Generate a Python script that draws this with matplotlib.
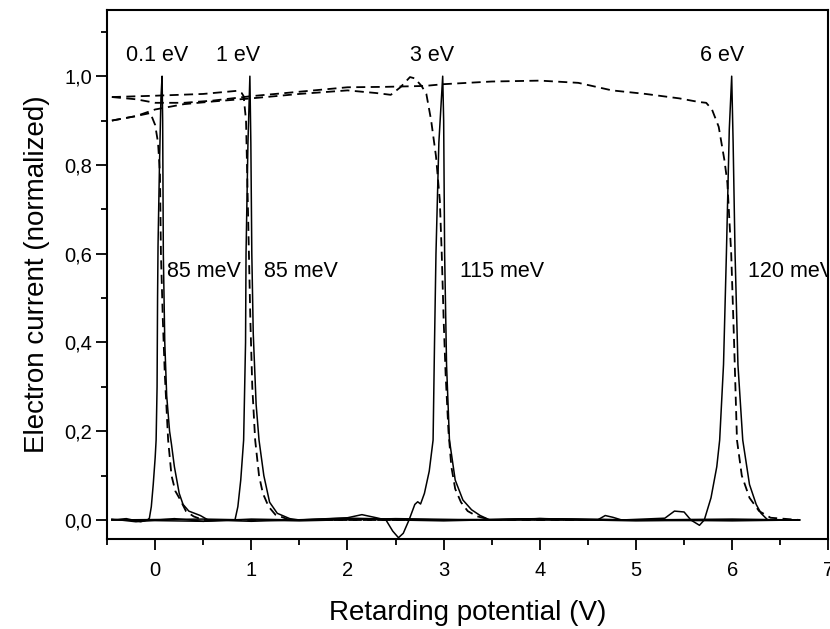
import matplotlib
matplotlib.use("Agg")
import matplotlib.pyplot as plt
from matplotlib.ticker import MultipleLocator, FuncFormatter

plt.rcParams['font.family'] = ['Liberation Sans', 'DejaVu Sans']

# solid lines: measured peaks (electron energy distribution)
x_s01 = [-0.45, -0.3, -0.15, -0.08, -0.06, -0.04, -0.02, 0.0, 0.01, 0.02, 0.025, 0.03, 0.045, 0.06, 0.072,
         0.078, 0.085, 0.1, 0.12, 0.15, 0.17, 0.2, 0.25, 0.29, 0.35, 0.47, 0.55, 1.0, 2.0, 3.0, 4.0, 5.0, 6.0, 6.7]
y_s01 = [0.0, 0.003, -0.004, 0.0, 0.004, 0.03, 0.08, 0.14, 0.18, 0.3, 0.5, 0.62, 0.8, 0.95, 1.0,
         0.9, 0.6, 0.4, 0.28, 0.2, 0.17, 0.12, 0.06, 0.035, 0.02, 0.01, 0.0, -0.003, 0.004, 0.0, 0.003, 0.0, 0.002, 0.0]

x_s1 = [-0.45, -0.2, 0.2, 0.5, 0.83, 0.86, 0.89, 0.92, 0.94, 0.945, 0.965, 0.985,
        0.995, 1.005, 1.02, 1.05, 1.08, 1.13, 1.19, 1.27, 1.4, 1.5, 2.0, 3.0, 4.0, 5.0, 6.0, 6.7]
y_s1 = [0.002, -0.004, 0.003, -0.003, 0.0, 0.03, 0.09, 0.18, 0.4, 0.6, 0.85, 1.0,
        0.85, 0.6, 0.42, 0.26, 0.18, 0.1, 0.04, 0.015, 0.003, 0.0, 0.002, -0.002, 0.003, 0.0, -0.002, 0.0]

x_s3 = [-0.45, 0.5, 1.0, 1.5, 2.0, 2.15, 2.3, 2.4, 2.47, 2.53, 2.58, 2.64, 2.7, 2.73, 2.76, 2.8, 2.85, 2.89,
        2.905, 2.92, 2.95, 2.99, 3.0, 3.01, 3.03, 3.06, 3.12, 3.2, 3.29, 3.38, 3.48, 4.0, 5.0, 6.0, 6.7]
y_s3 = [0.0, -0.003, 0.002, 0.0, 0.005, 0.012, 0.005, 0.0, -0.025, -0.04, -0.03, 0.0, 0.035, 0.041, 0.036,
        0.06, 0.11, 0.18, 0.4, 0.6, 0.85, 1.0, 0.9, 0.6, 0.35, 0.18, 0.09, 0.045, 0.023, 0.01, 0.0,
        0.002, -0.002, 0.0, 0.0]

x_s6 = [-0.45, 0.5, 1.5, 2.5, 3.5, 4.0, 4.6, 4.68, 4.76, 4.85, 5.3, 5.4, 5.5, 5.57, 5.66, 5.71, 5.78, 5.84, 5.87,
        5.91, 5.94, 5.97, 5.995, 6.01, 6.03, 6.06, 6.11, 6.18, 6.25, 6.3, 6.37, 6.7]
y_s6 = [0.0, 0.002, -0.002, 0.003, 0.0, 0.003, 0.0, 0.01, 0.006, 0.0, 0.004, 0.02, 0.018, 0.0, -0.012, 0.0,
        0.05, 0.12, 0.18, 0.35, 0.6, 0.88, 1.0, 0.85, 0.6, 0.35, 0.18, 0.08, 0.035, 0.015, 0.0, 0.0]

# dashed lines: normalized retarding curves
x_d01 = [-0.45, -0.2, -0.05, 0.0, 0.03, 0.05, 0.06, 0.08, 0.1, 0.135, 0.17, 0.21, 0.26, 0.32, 0.4, 0.5,
         1.5, 3.0, 4.5, 6.7]
y_d01 = [0.90, 0.91, 0.917, 0.89, 0.85, 0.78, 0.6, 0.45, 0.33, 0.18, 0.1, 0.065, 0.046, 0.02, 0.008, 0.0,
         0.0, 0.0, 0.0, 0.0]

x_d1 = [-0.45, 0.0, 0.5, 0.85, 0.9, 0.92, 0.945, 0.955, 0.975, 0.99, 1.01, 1.04, 1.08, 1.12, 1.18, 1.25,
        1.4, 3.0, 5.0, 6.7]
y_d1 = [0.953, 0.956, 0.96, 0.967, 0.962, 0.955, 0.9, 0.8, 0.6, 0.45, 0.3, 0.18, 0.1, 0.06, 0.03, 0.012,
        0.0, 0.0, 0.0, 0.0]

x_d3 = [-0.45, -0.2, 0.0, 0.3, 0.6, 1.0, 1.5, 2.0, 2.3, 2.45, 2.55, 2.65, 2.7, 2.77, 2.82, 2.87, 2.92, 2.96,
        2.98, 3.0, 3.02, 3.05, 3.08, 3.12, 3.18, 3.25, 3.35, 3.5, 5.0, 6.7]
y_d3 = [0.90, 0.91, 0.925, 0.937, 0.943, 0.95, 0.96, 0.968, 0.962, 0.958, 0.975, 0.998, 0.995, 0.978, 0.96,
        0.9, 0.82, 0.72, 0.6, 0.45, 0.33, 0.2, 0.12, 0.07, 0.04, 0.02, 0.008, 0.0, 0.0, 0.0]

x_d6 = [-0.45, -0.2, 0.0, 0.3, 0.6, 1.0, 1.5, 2.0, 2.4, 2.8, 3.0, 3.5, 4.0, 4.4, 4.75, 5.1, 5.45, 5.65, 5.73,
        5.79, 5.86, 5.92, 5.95, 5.99, 6.02, 6.05, 6.1, 6.18, 6.28, 6.4, 6.7]
y_d6 = [0.953, 0.948, 0.94, 0.94, 0.945, 0.955, 0.965, 0.975, 0.976, 0.978, 0.982, 0.988, 0.99, 0.985, 0.968,
        0.96, 0.95, 0.942, 0.94, 0.925, 0.886, 0.81, 0.76, 0.6, 0.4, 0.18, 0.1, 0.05, 0.02, 0.005, 0.0]

peak_labels = ["0.1 eV", "1 eV", "3 eV", "6 eV"]
peak_label_x = [0.02, 0.86, 2.88, 5.90]
width_labels = ["85 meV", "85 meV", "115 meV", "120 meV"]
width_label_x = [0.125, 1.13, 3.17, 6.16]

fig = plt.figure(figsize=(8.3, 6.29), dpi=100)
ax = fig.add_axes([0.129, 0.143, 0.869, 0.841])

for xs, ys in [(x_s01, y_s01), (x_s1, y_s1), (x_s3, y_s3), (x_s6, y_s6)]:
    ax.plot(xs, ys, color='black', linewidth=1.1)
for xs, ys in [(x_d01, y_d01), (x_d1, y_d1), (x_d3, y_d3), (x_d6, y_d6)]:
    ax.plot(xs, ys, color='black', linewidth=1.3, linestyle=(0, (5, 3)))

for lab, xp in zip(peak_labels, peak_label_x):
    ax.text(xp, 1.047, lab, ha='center', va='center', fontsize=15.5)
# the last width label runs into the right frame, as in the original
for lab, xp in zip(width_labels, width_label_x):
    ax.text(xp, 0.559, lab, ha='left', va='center', fontsize=15.5, clip_on=True)

ax.set_xlim(-0.5, 7.0)
ax.set_ylim(-0.043, 1.149)
ax.xaxis.set_major_locator(MultipleLocator(1))
ax.xaxis.set_minor_locator(MultipleLocator(0.5))
ax.yaxis.set_major_locator(MultipleLocator(0.2))
ax.yaxis.set_minor_locator(MultipleLocator(0.1))
ax.yaxis.set_major_formatter(FuncFormatter(lambda v, p: f"{v:.1f}".replace('.', ',')))

ax.tick_params(which='major', direction='out', length=8, width=1.3, labelsize=14.5)
ax.tick_params(axis='x', which='major', pad=8)
ax.tick_params(axis='y', which='major', pad=3)
ax.tick_params(which='minor', direction='out', length=4.5, width=1.3)
for s in ax.spines.values():
    s.set_linewidth(1.5)

ax.set_xlabel("Retarding potential (V)", fontsize=20, labelpad=14)
ax.set_ylabel("Electron current (normalized)", fontsize=20, labelpad=10)

fig.savefig("out.png", dpi=100)
